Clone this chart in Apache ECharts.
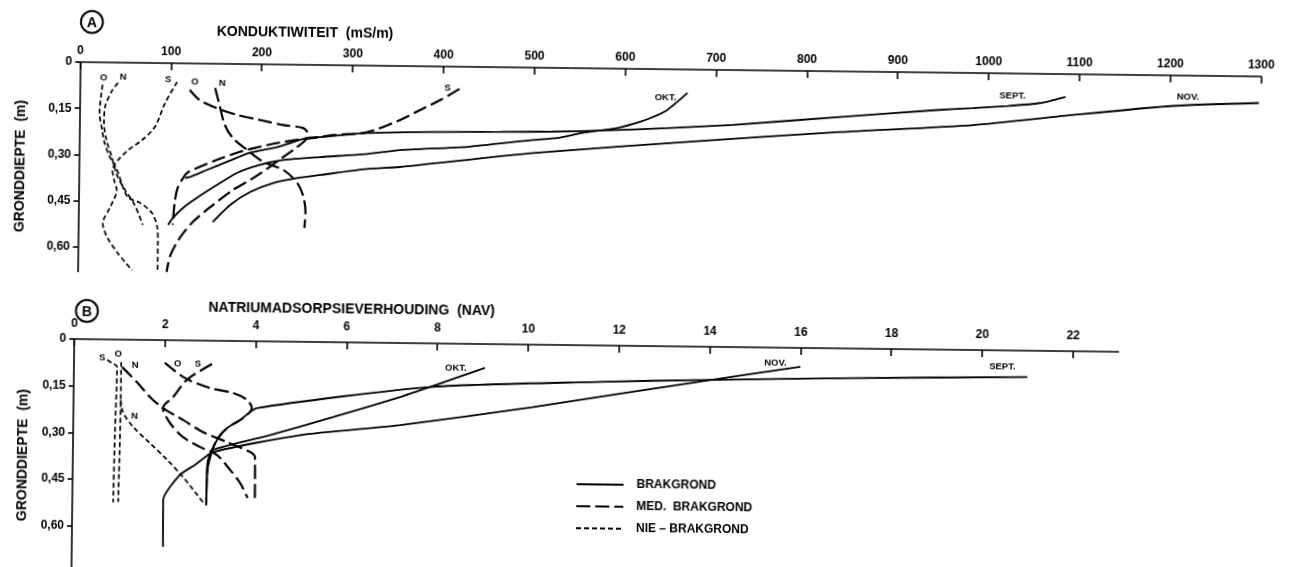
<!DOCTYPE html>
<html>
<head>
<meta charset="utf-8">
<script src="https://cdn.jsdelivr.net/npm/echarts@6/dist/echarts.min.js"></script>
<style>
  html, body { margin: 0; padding: 0; background: #fff; overflow: hidden; width: 1289px; height: 567px; }
  /* the scanned figure sits slightly skewed, so the whole chart is turned a little */
  #chart { position: absolute; left: -20px; top: -20px; width: 1329px; height: 607px;
           transform: rotate(0.7deg); transform-origin: 664.5px 303.5px; }
</style>
</head>
<body>
<div id="chart"></div>
<script>
const FONT = '"Liberation Sans", Arial, sans-serif';

// tick labels
const kondTicks = [0, 100, 200, 300, 400, 500, 600, 700, 800, 900, 1000, 1100, 1200, 1300];
const navTicks = [0, 2, 4, 6, 8, 10, 12, 14, 16, 18, 20, 22];
const depthTicks = [0, 0.15, 0.3, 0.45, 0.6];

// A: konduktiwiteit (mS/m), [waarde, diepte (m)]
const kondNieOkt = [[25, 0.073], [22, 0.164], [25, 0.219], [28, 0.262], [34, 0.307], [42, 0.349], [54, 0.436], [68, 0.455], [81, 0.487], [87, 0.532], [88, 0.584], [88, 0.672]];
const kondNieNov = [[42, 0.066], [36, 0.089], [28, 0.145], [27, 0.197], [30, 0.252], [36, 0.306], [42, 0.365], [51, 0.413], [62, 0.462], [71, 0.526]];
const kondNieSept = [[107, 0.061], [94, 0.130], [83, 0.208], [69, 0.251], [54, 0.284], [43, 0.317], [37, 0.349], [39, 0.382], [42, 0.414], [35, 0.470], [27, 0.522], [32, 0.567], [44, 0.619], [60, 0.674]];
const kondMedOkt = [[121, 0.086], [132, 0.118], [151, 0.144], [173, 0.165], [199, 0.181], [224, 0.196], [246, 0.205], [251, 0.221], [249, 0.244], [240, 0.267], [225, 0.300], [210, 0.333], [192, 0.370], [170, 0.409], [148, 0.459], [126, 0.515], [112, 0.567], [102, 0.623], [98, 0.678]];
const kondMedNov = [[149, 0.079], [154, 0.134], [160, 0.198], [169, 0.240], [185, 0.279], [203, 0.317], [225, 0.342], [240, 0.381], [247, 0.423], [250, 0.478], [249, 0.530]];
const kondMedSept = [[418, 0.072], [397, 0.109], [375, 0.142], [353, 0.175], [317, 0.216], [279, 0.227], [265, 0.234], [240, 0.244], [218, 0.255], [199, 0.268], [177, 0.285], [152, 0.312], [130, 0.339], [119, 0.356], [115, 0.372], [109, 0.405], [106, 0.450], [104, 0.525]];
const kondBrakOkt = [[669, 0.076], [647, 0.132], [631, 0.156], [617, 0.172], [592, 0.193], [554, 0.210], [526, 0.228], [499, 0.235], [427, 0.260], [353, 0.273], [317, 0.287], [265, 0.299], [225, 0.310], [199, 0.327], [174, 0.354], [152, 0.394], [130, 0.437], [115, 0.470], [104, 0.503], [99, 0.525]];
const kondBrakSept = [[1085, 0.074], [1057, 0.095], [1021, 0.106], [983, 0.114], [947, 0.121], [837, 0.148], [719, 0.178], [647, 0.191], [573, 0.202], [520, 0.207], [463, 0.210], [386, 0.213], [317, 0.219], [265, 0.234], [251, 0.237], [218, 0.268], [188, 0.288], [163, 0.318], [141, 0.345], [122, 0.369], [117, 0.372]];
const kondBrakNov = [[1298, 0.086], [1203, 0.099], [1094, 0.132], [984, 0.169], [837, 0.197], [683, 0.232], [500, 0.277], [353, 0.328], [317, 0.336], [266, 0.357], [240, 0.368], [214, 0.385], [189, 0.415], [167, 0.458], [148, 0.514]];

// B: natriumadsorpsieverhouding (NAV), [waarde, diepte (m)]
const navNieSept = [[0.73, 0.066], [0.84, 0.076], [0.95, 0.088], [0.92, 0.307], [0.90, 0.523]];
const navNieOkt = [[1.04, 0.072], [1.04, 0.194], [1.01, 0.522]];
const navNieNov = [[1.04, 0.194], [1.09, 0.233], [1.32, 0.280], [1.69, 0.331], [2.08, 0.385], [2.43, 0.439], [2.70, 0.487], [2.92, 0.527]];
const navMedNov = [[1.06, 0.088], [1.39, 0.136], [1.68, 0.183], [1.97, 0.218], [2.42, 0.256], [2.86, 0.294], [3.39, 0.325], [3.90, 0.356], [4.01, 0.372], [4.02, 0.520]];
const navMedOkt = [[2.00, 0.073], [2.45, 0.121], [3.00, 0.152], [3.51, 0.167], [3.82, 0.189], [3.93, 0.215], [3.74, 0.247], [3.39, 0.280], [3.19, 0.313], [3.06, 0.352], [2.98, 0.384], [2.96, 0.426], [2.95, 0.529]];
const navMedSept = [[3.04, 0.075], [2.49, 0.127], [2.19, 0.183], [1.97, 0.218], [2.13, 0.266], [2.42, 0.311], [2.80, 0.342], [3.17, 0.367], [3.47, 0.415], [3.69, 0.456], [3.86, 0.504]];
const navBrakOkt = [[9.05, 0.077], [7.85, 0.140], [7.19, 0.174], [5.72, 0.241], [4.34, 0.301], [3.08, 0.351], [2.98, 0.384], [2.95, 0.528]];
const navBrakNov = [[16.0, 0.061], [14.0, 0.107], [10.1, 0.201], [7.2, 0.264], [5.0, 0.300], [3.09, 0.358], [2.69, 0.400], [2.36, 0.433], [2.0, 0.514], [2.01, 0.665]];
const navBrakSept = [[21.0, 0.085], [17.1, 0.095], [13.8, 0.107], [11.6, 0.117], [7.85, 0.140], [4.04, 0.215], [3.67, 0.254], [3.39, 0.280], [3.17, 0.319], [3.06, 0.358], [2.96, 0.426], [2.95, 0.528]];

const soilNames = { brak: 'BRAKGROND', med: 'MED.  BRAKGROND', nie: 'NIE \u2013 BRAKGROND' };
const soilDash = { brak: 'solid', med: [14, 5], nie: [5, 3] };
const soilWidth = { brak: 1.8, med: 2.2, nie: 1.7 };

// one curve; the month label sits next to the top end of the line
function curve(panel, soil, month, points, labelOffset) {
  return {
    type: 'line',
    name: soilNames[soil],
    xAxisIndex: panel,
    yAxisIndex: panel,
    data: points.map((p, i) => (i === 0 ? {
      value: p,
      label: {
        show: true,
        formatter: month,
        position: 'inside',
        offset: labelOffset,
        color: '#000',
        fontFamily: FONT,
        fontWeight: 'bold',
        fontSize: 9.5,
      },
    } : p)),
    symbol: 'circle',
    symbolSize: 0,
    showSymbol: true,
    smooth: soil === 'brak' ? 0.2 : 0.3,
    lineStyle: { color: '#000', width: soilWidth[soil], type: soilDash[soil] },
    itemStyle: { color: '#000' },
    silent: true,
    animation: false,
  };
}

const depthLabel = (v) => (v === 0 ? '0' : v.toFixed(2).replace('.', ','));
const plainLabel = (v) => String(v);
const axisText = { color: '#000', fontFamily: FONT, fontWeight: 'bold', fontSize: 12 };
const blackLine = { lineStyle: { color: '#000', width: 1.6 } };

function topAxis(gridIndex, max, interval, ticks, margin) {
  return {
    type: 'value',
    gridIndex,
    position: 'top',
    min: 0,
    max,
    interval,
    axisLine: { show: true, onZero: false, ...blackLine },
    axisTick: { show: true, inside: true, length: 7, customValues: ticks, ...blackLine },
    axisLabel: { customValues: ticks, formatter: plainLabel, margin, ...axisText },
    splitLine: { show: false },
  };
}

function depthAxis(gridIndex, max, nameGap) {
  return {
    type: 'value',
    gridIndex,
    inverse: true,
    min: 0,
    max,
    interval: 0.15,
    name: 'GRONDDIEPTE  (m)',
    nameLocation: 'middle',
    nameGap,
    nameTextStyle: { color: '#000', fontFamily: FONT, fontWeight: 'bold', fontSize: 14 },
    axisLine: { show: true, onZero: false, ...blackLine },
    axisTick: { show: true, length: 5, customValues: depthTicks, ...blackLine },
    axisLabel: { customValues: depthTicks, formatter: depthLabel, margin: 8, ...axisText },
    splitLine: { show: false },
  };
}

function panelMark(cx, cy, letter) {
  return [
    { type: 'circle', shape: { cx, cy, r: 11 }, style: { fill: 'none', stroke: '#000', lineWidth: 2 } },
    { type: 'text', x: cx, y: cy + 1, style: { text: letter, fill: '#000', font: 'bold 14px ' + FONT, textAlign: 'center', textVerticalAlign: 'middle' } },
  ];
}

function panelTitle(cx, cy, text) {
  return { type: 'text', x: cx, y: cy, style: { text, fill: '#000', font: 'bold 14px ' + FONT, textAlign: 'center', textVerticalAlign: 'middle' } };
}

const chart = echarts.init(document.getElementById('chart'), null, { renderer: 'canvas' });

chart.setOption({
  backgroundColor: '#fff',
  animation: false,
  grid: [
    { left: 97.5, top: 89, width: 1181, height: 209.4 },
    { left: 95, top: 366, width: 1044.2, height: 233.3 },
  ],
  xAxis: [
    topAxis(0, 1300, 100, kondTicks, 5),
    topAxis(1, 23, 2, navTicks, 9),
  ],
  yAxis: [
    depthAxis(0, 0.68, 51),
    depthAxis(1, 0.75, 43),
  ],
  legend: {
    data: [soilNames.brak, soilNames.med, soilNames.nie],
    orient: 'vertical',
    left: 593,
    top: 494,
    itemWidth: 47,
    itemHeight: 14,
    itemGap: 10,
    selectedMode: false,
    itemStyle: { opacity: 0, borderWidth: 0 },
    textStyle: { color: '#000', fontFamily: FONT, fontWeight: 'bold', fontSize: 12, padding: [0, 0, 0, 8] },
  },
  graphic: [
    ...panelMark(108.8, 48.7, 'A'),
    panelTitle(322, 57, 'KONDUKTIWITEIT  (mS/m)'),
    ...panelMark(107.3, 337.8, 'B'),
    panelTitle(372, 333.6, 'NATRIUMADSORPSIEVERHOUDING  (NAV)'),
  ],
  series: [
    curve(0, 'brak', 'OKT.', kondBrakOkt, [-22, 5]),
    curve(0, 'brak', 'SEPT.', kondBrakSept, [-53, 0]),
    curve(0, 'brak', 'NOV.', kondBrakNov, [-71, -5]),
    curve(0, 'med', 'O', kondMedOkt, [5, -8]),
    curve(0, 'med', 'N', kondMedNov, [7, -5]),
    curve(0, 'med', 'S', kondMedSept, [-12, -1]),
    curve(0, 'nie', 'O', kondNieOkt, [1, -7]),
    curve(0, 'nie', 'N', kondNieNov, [5, -6]),
    curve(0, 'nie', 'S', kondNieSept, [-9, -2]),

    curve(1, 'brak', 'OKT.', navBrakOkt, [-29, 0]),
    curve(1, 'brak', 'NOV.', navBrakNov, [-25, -4]),
    curve(1, 'brak', 'SEPT.', navBrakSept, [-25, -10]),
    curve(1, 'med', 'N', navMedNov, [13, -2]),
    curve(1, 'med', 'O', navMedOkt, [13, 1]),
    curve(1, 'med', 'S', navMedSept, [-14, 0]),
    curve(1, 'nie', 'S', navNieSept, [-5, -2]),
    curve(1, 'nie', 'O', navNieOkt, [-3, -8]),
    curve(1, 'nie', 'N', navNieNov, [14, 16]),
  ],
});
</script>
</body>
</html>
